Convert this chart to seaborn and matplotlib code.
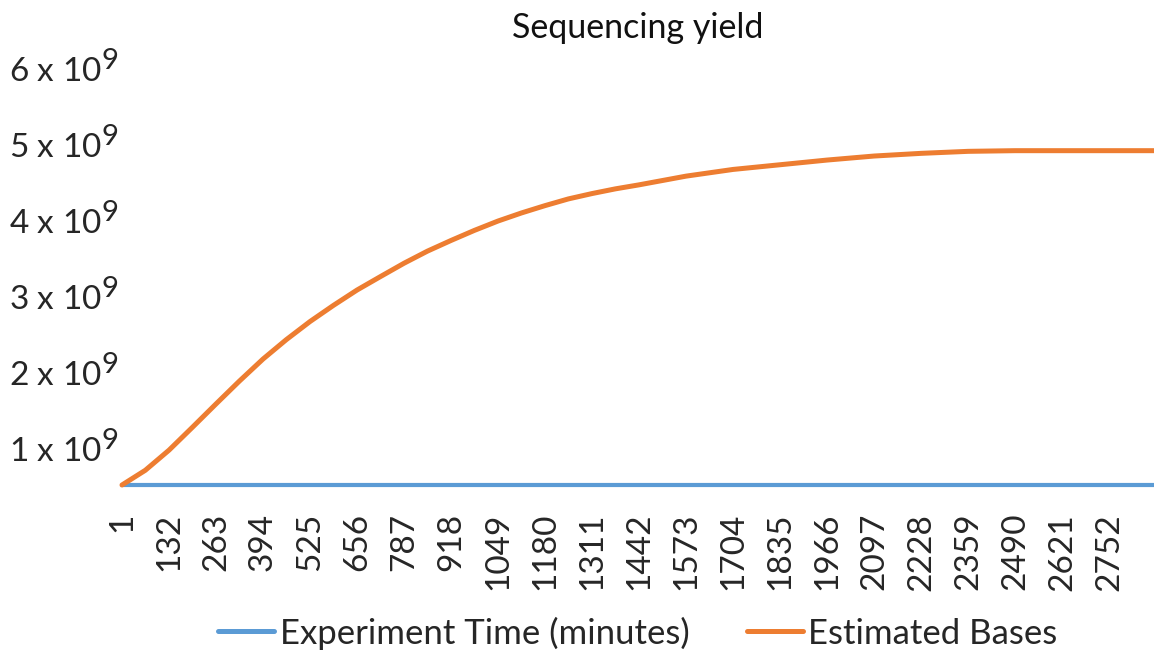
import matplotlib
matplotlib.use("Agg")
import matplotlib.pyplot as plt
import seaborn as sns
import numpy as np
import pandas as pd

try:
    import matplotlib._mathtext as _mt
    _mt.SHRINK_FACTOR = 0.88  # larger superscripts, like the reference labels
except Exception:
    pass

# ---- data ----
minutes_est = [1, 66, 132, 197, 263, 328, 394, 459, 525, 590, 656, 721, 787, 852, 918,
               983, 1049, 1114, 1180, 1245, 1311, 1376, 1442, 1573, 1704, 1835, 1966,
               2097, 2228, 2359, 2490, 2621, 2752, 2880]
estimated_bases = [0.0, 0.22e9, 0.52e9, 0.86e9, 1.21e9, 1.55e9, 1.88e9, 2.17e9, 2.44e9,
                   2.68e9, 2.91e9, 3.11e9, 3.31e9, 3.49e9, 3.65e9, 3.80e9, 3.94e9,
                   4.06e9, 4.17e9, 4.27e9, 4.35e9, 4.42e9, 4.48e9, 4.61e9, 4.71e9,
                   4.78e9, 4.85e9, 4.91e9, 4.95e9, 4.98e9, 4.99e9, 4.99e9, 4.99e9,
                   4.99e9]
minutes_time = [1, 2880]
experiment_time = [1, 2880]

xtick_labels = [1, 132, 263, 394, 525, 656, 787, 918, 1049, 1180, 1311, 1442, 1573,
                1704, 1835, 1966, 2097, 2228, 2359, 2490, 2621, 2752]
ytick_text = ["1 x 10$^{9}$", "2 x 10$^{9}$", "3 x 10$^{9}$", "4 x 10$^{9}$",
              "5 x 10$^{9}$", "6 x 10$^{9}$"]

title = "Sequencing yield"
series_names = ["Experiment Time (minutes)", "Estimated Bases"]
colors = ["#5B9BD5", "#ED7D31"]

# ---- style ----
sns.set_theme(style="white")
plt.rcParams["font.family"] = ["Lato", "DejaVu Sans"]
plt.rcParams["mathtext.fontset"] = "custom"
plt.rcParams["mathtext.rm"] = "Lato"
plt.rcParams["mathtext.it"] = "Lato"
plt.rcParams["mathtext.bf"] = "Lato"

W, H = 1154, 651
fig = plt.figure(figsize=(W / 100, H / 100), dpi=100)
ax_left, ax_right, ax_bottom, ax_top = 122, 1154, 485, 45
ax = fig.add_axes([ax_left / W, 1 - ax_bottom / H, (ax_right - ax_left) / W,
                   (ax_bottom - ax_top) / H])

df_time = pd.DataFrame({"minute": minutes_time, "value": experiment_time})
df_est = pd.DataFrame({"minute": minutes_est, "value": estimated_bases})

sns.lineplot(data=df_time, x="minute", y="value", ax=ax, color=colors[0], lw=3.0,
             label=series_names[0], clip_on=False)
sns.lineplot(data=df_est, x="minute", y="value", ax=ax, color=colors[1], lw=3.6,
             label=series_names[1], clip_on=False)

px_per_unit = 67.0 / 1e9  # vertical pixels per base
ymax = (ax_bottom - ax_top) / px_per_unit
ax.set_ylim(0, ymax)
ax.set_xlim(1, 2877)

# the reference places its y labels at these pixel heights
label_px = [446, 370, 294, 218, 142, 66]
ax.set_yticks([(ax_bottom - p) / px_per_unit for p in label_px])
ax.set_yticklabels(ytick_text, fontsize=24)
ax.set_xticks(xtick_labels)
ax.set_xticklabels([str(v) for v in xtick_labels], rotation=90, fontsize=24)
ax.tick_params(axis="both", length=0)
ax.tick_params(axis="x", pad=20)
ax.tick_params(axis="y", pad=3)
for s in ax.spines.values():
    s.set_visible(False)
ax.set_xlabel("")
ax.set_ylabel("")
cx = 0.5 * (ax_left + ax_right) / W
fig.text(cx, 1 - 28 / H, title, fontsize=24.5, ha="center", va="center",
         color="#111111")

leg = ax.legend(loc="center", bbox_to_anchor=(cx, 1 - 633 / H),
                bbox_transform=fig.transFigure, ncol=2, frameon=False, fontsize=25,
                handlelength=1.61, handletextpad=0.15, columnspacing=1.67)
for line in leg.get_lines():
    line.set_linewidth(3.6)

fig.savefig("out.png", dpi=100)
